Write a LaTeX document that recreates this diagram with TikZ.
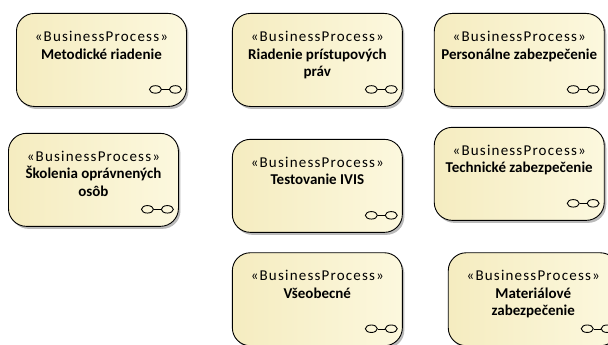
\documentclass[tikz,border=0pt]{standalone}
\usepackage{fontspec}
\setmainfont{Carlito}
\usetikzlibrary{positioning,shadows,shapes.geometric}
\newcommand{\stereo}{{\addfontfeature{LetterSpace=8}«BusinessProcess»}}

\begin{document}
\begin{tikzpicture}[x=1pt,y=1pt,
		process/.style={draw=black,line width=0.9pt,rounded corners=18pt,left color=processleft,right color=processright,minimum width=170pt,minimum height=93pt,inner sep=0pt,drop shadow={shadow xshift=2pt,shadow yshift=-2.5pt,opacity=0.45,fill=black!60}},
		caption/.style={anchor=north,align=center,font=\fontsize{15}{17.5}\selectfont,inner sep=0pt,yshift=-18pt},
		lens/.style={draw=black,line width=0.9pt,ellipse,inner sep=0pt,minimum width=12pt,minimum height=7.5pt}]
		\definecolor{processleft}{HTML}{F5ECC0}
		\definecolor{processright}{HTML}{FCF8DE}
		\useasboundingbox (0,0) rectangle (608,-345);
		\clip (0,0) rectangle (608,-345);

		\node[process,anchor=north west]	at (16,-13)	(metodicke)	{};
		\node[process,right=45pt of metodicke]			(riadenie)	{};
		\node[process,right=31pt of riadenie]			(personalne)	{};
		\node[process,below=26pt of metodicke,xshift=-8pt]	(skolenia)	{};
		\node[process,below=32pt of riadenie]			(testovanie)	{};
		\node[process,below=20pt of personalne]			(technicke)	{};
		\node[process,below=19.5pt of testovanie]		(vseobecne)	{};
		\node[process,right=45pt of vseobecne]			(materialove)	{};

		\node[caption] at (metodicke.north)	(t0)	{\stereo\\\textbf{Metodické riadenie}};
		\node[caption] at (riadenie.north)	(t1)	{\stereo\\\textbf{Riadenie prístupových}\\\textbf{práv}};
		\node[caption] at (personalne.north)	(t2)	{\stereo\\\textbf{Personálne zabezpečenie}};
		\node[caption] at (skolenia.north)	(t3)	{\stereo\\\textbf{Školenia oprávnených}\\\textbf{osôb}};
		\node[caption] at (testovanie.north)	(t4)	{\stereo\\\textbf{Testovanie IVIS}};
		\node[caption] at (technicke.north)	(t5)	{\stereo\\\textbf{Technické zabezpečenie}};
		\node[caption] at (vseobecne.north)	(t6)	{\stereo\\\textbf{Všeobecné}};
		\node[caption] at (materialove.north)	(t7)	{\stereo\\\textbf{Materiálové}\\\textbf{zabezpečenie}};

		\node[lens,above left=14.5pt and 7pt of metodicke.south east]	(g0b)	{};
		\node[lens,left=7pt of g0b]					(g0a)	{};
		\node[lens,above left=14.5pt and 7pt of riadenie.south east]	(g1b)	{};
		\node[lens,left=7pt of g1b]					(g1a)	{};
		\node[lens,above left=14.5pt and 7pt of personalne.south east]	(g2b)	{};
		\node[lens,left=7pt of g2b]					(g2a)	{};
		\node[lens,above left=14.5pt and 7pt of skolenia.south east]	(g3b)	{};
		\node[lens,left=7pt of g3b]					(g3a)	{};
		\node[lens,above left=14.5pt and 7pt of testovanie.south east]	(g4b)	{};
		\node[lens,left=7pt of g4b]					(g4a)	{};
		\node[lens,above left=14.5pt and 7pt of technicke.south east]	(g5b)	{};
		\node[lens,left=7pt of g5b]					(g5a)	{};
		\node[lens,above left=14.5pt and 7pt of vseobecne.south east]	(g6b)	{};
		\node[lens,left=7pt of g6b]					(g6a)	{};
		\node[lens,above left=14.5pt and 7pt of materialove.south east]	(g7b)	{};
		\node[lens,left=7pt of g7b]					(g7a)	{};

		\draw (g0a) -- (g0b);
		\draw (g1a) -- (g1b);
		\draw (g2a) -- (g2b);
		\draw (g3a) -- (g3b);
		\draw (g4a) -- (g4b);
		\draw (g5a) -- (g5b);
		\draw (g6a) -- (g6b);
		\draw (g7a) -- (g7b);
	\end{tikzpicture}
\end{document}
